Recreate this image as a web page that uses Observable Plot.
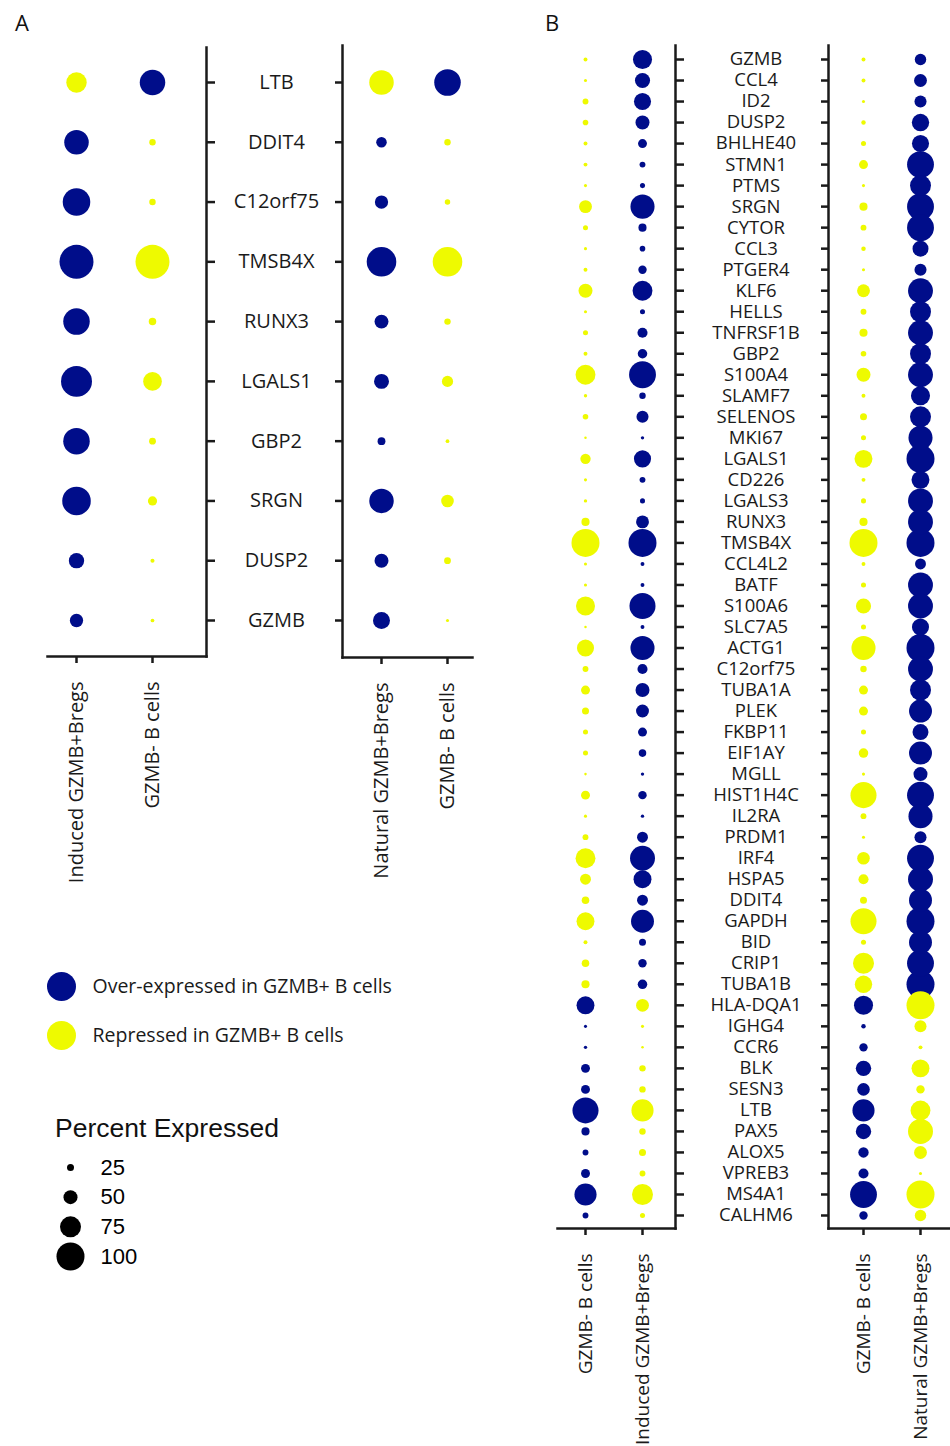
<!DOCTYPE html>
<html>
<head>
<meta charset="utf-8">
<script src="https://cdn.jsdelivr.net/npm/d3@7"></script>
<script src="https://cdn.jsdelivr.net/npm/@observablehq/plot@0.6"></script>
<style>
  body { margin: 0; background: #fff; }
  #root { position: relative; width: 950px; height: 1446px; overflow: hidden; font-family: "Open Sans", sans-serif; color: #111; }
  .abs { position: absolute; }
  .abs svg { overflow: visible; }
  .letter { font-size: 22px; line-height: 1; }
  .ptitle { font-family: "Liberation Sans", Arial, sans-serif; font-size: 26.5px; line-height: 1; }
</style>
</head>
<body>
<div id="root"></div>
<script>
const BLUE = "#000D8A";
const YELLOW = "#EEFA00";
const INK = "#1a1a1a";
const FONT = "'Open Sans', sans-serif";
const LEVELS = ["Over-expressed in GZMB+ B cells", "Repressed in GZMB+ B cells"];

// ---------- Panel A data ----------
const genesA = ["LTB", "DDIT4", "C12orf75", "TMSB4X", "RUNX3", "LGALS1", "GBP2", "SRGN", "DUSP2", "GZMB"];
const levelsA = ["R", "O", "O", "O", "O", "O", "O", "O", "O", "O"]; // regulation in GZMB+ cells
const groupsA1 = ["Induced GZMB+Bregs", "GZMB- B cells"];
const groupsA2 = ["Natural GZMB+Bregs", "GZMB- B cells"];
const pctA_induced = [60, 72, 81, 100, 78, 91, 78, 84, 45, 39];
const pctA_neg1    = [75, 19, 19, 100, 22, 55, 20, 27, 12, 11];
const pctA_natural = [72, 31, 39, 87, 41, 44, 23, 72, 41, 50];
const pctA_neg2    = [78, 19, 16, 87, 19, 33, 11, 37, 20, 9];

// ---------- Panel B data ----------
const genesB = ["GZMB","CCL4","ID2","DUSP2","BHLHE40","STMN1","PTMS","SRGN","CYTOR","CCL3","PTGER4","KLF6",
  "HELLS","TNFRSF1B","GBP2","S100A4","SLAMF7","SELENOS","MKI67","LGALS1","CD226","LGALS3","RUNX3","TMSB4X",
  "CCL4L2","BATF","S100A6","SLC7A5","ACTG1","C12orf75","TUBA1A","PLEK","FKBP11","EIF1AY","MGLL","HIST1H4C",
  "IL2RA","PRDM1","IRF4","HSPA5","DDIT4","GAPDH","BID","CRIP1","TUBA1B","HLA-DQA1","IGHG4",
  "CCR6","BLK","SESN3","LTB","PAX5","ALOX5","VPREB3","MS4A1","CALHM6"];
const levelsB = [
  "O","O","O","O","O","O","O","O","O","O","O","O",
  "O","O","O","O","O","O","O","O","O","O","O","O",
  "O","O","O","O","O","O","O","O","O","O","O","O",
  "O","O","O","O","O","O","O","O","O","R","R",
  "R","R","R","R","R","R","R","R","R"];
const groupsB1 = ["GZMB- B cells", "Induced GZMB+Bregs"];
const groupsB2 = ["GZMB- B cells", "Natural GZMB+Bregs"];
const pctB_neg1 = [14,11,21,20,14,14,11,46,18,11,14,50,
  11,18,14,71,12,20,9,37,11,12,29,100,
  11,11,68,9,61,21,32,25,18,18,9,32,
  11,21,71,39,27,64,14,27,29,64,11,
  12,32,32,93,29,21,32,79,21];
const pctB_induced = [68,54,61,50,32,21,18,86,29,20,30,71,
  18,36,34,96,23,43,12,61,21,18,46,100,
  14,14,93,14,86,36,50,46,32,27,12,30,
  12,39,89,64,39,82,25,30,34,46,11,
  9,23,23,79,23,25,21,75,18];
const pctB_neg2 = [14,14,11,16,18,32,11,29,21,16,11,46,
  21,29,20,50,14,25,18,64,14,18,29,100,
  14,18,54,18,86,23,32,32,18,34,11,93,
  21,11,45,36,25,93,18,75,62,68,16,
  30,55,45,79,55,37,36,96,30];
const pctB_natural = [41,46,43,62,61,96,75,96,96,57,43,89,
  75,89,75,89,68,75,86,100,64,89,89,100,
  39,89,89,61,100,89,75,82,57,82,50,96,
  86,43,96,89,82,100,82,96,100,100,43,
  14,64,30,71,89,46,11,100,41];

// ---------- Legend data ----------
const sizeLegend = [25, 50, 75, 100];

// ---------- helpers ----------
const root = document.getElementById("root");
function place(node, left, top) {
  const d = document.createElement("div");
  d.className = "abs";
  d.style.left = left + "px";
  d.style.top = top + "px";
  d.appendChild(node);
  root.appendChild(d);
  return d;
}
function levelName(code) { return code === "O" ? LEVELS[0] : LEVELS[1]; }
function opposite(name) { return name === LEVELS[0] ? LEVELS[1] : LEVELS[0]; }

function dotPlot({genes, groups, series, levels, plusGroup, w, h, m, xr, yr, rmax, side, tickLen, xfs}) {
  const rows = [];
  groups.forEach((g, gi) => genes.forEach((gene, i) => {
    const lv = levelName(levels[i]);
    rows.push({gene, group: g, pct: series[gi][i], level: g === plusGroup ? lv : opposite(lv)});
  }));
  return Plot.plot({
    width: w, height: h,
    marginTop: m[0], marginRight: m[1], marginBottom: m[2], marginLeft: m[3],
    style: {fontFamily: FONT, color: INK, background: "transparent", overflow: "visible"},
    x: {type: "point", domain: groups, range: xr, padding: 0, round: false},
    y: {type: "point", domain: genes, range: yr, padding: 0, round: false},
    r: {type: "linear", domain: [0, 100], range: [0, rmax]},
    color: {domain: LEVELS, range: [BLUE, YELLOW]},
    marks: [
      Plot.frame({anchor: side, stroke: INK, strokeWidth: 2.5}),
      Plot.frame({anchor: "bottom", stroke: INK, strokeWidth: 2.5}),
      Plot.axisY({anchor: side, tickSize: tickLen, tickFormat: () => "", strokeWidth: 2.5, label: null}),
      Plot.axisX({anchor: "bottom", tickSize: 7, tickRotate: -90, tickPadding: 18, fontSize: xfs, strokeWidth: 2.5, fill: INK, label: null}),
      Plot.dot(rows, {x: "group", y: "gene", r: "pct", fill: "level"})
    ]
  });
}

function geneLabels(genes, w, h, yr, fs) {
  return Plot.plot({
    width: w, height: h, margin: 0,
    style: {fontFamily: FONT, color: INK, background: "transparent", overflow: "visible"},
    y: {type: "point", domain: genes, range: yr, padding: 0, round: false, axis: null},
    marks: [Plot.text(genes, {y: d => d, text: d => d, fontSize: fs, fill: INK})]
  });
}

// ---------- Panel A ----------
place(dotPlot({genes: genesA, groups: groupsA1, series: [pctA_induced, pctA_neg1], levels: levelsA,
  plusGroup: groupsA1[0], w: 240, h: 900, m: [47, 34, 244, 47], xr: [76, 152], yr: [82, 620],
  rmax: 17, side: "right", tickLen: 8, xfs: 20}), 0, 0);
place(geneLabels(genesA, 124, 700, [82, 620], 20), 214, 0);
place(dotPlot({genes: genesA, groups: groupsA2, series: [pctA_natural, pctA_neg2], levels: levelsA,
  plusGroup: groupsA2[0], w: 200, h: 900, m: [45, 28, 243, 42], xr: [81, 147], yr: [82, 620],
  rmax: 17, side: "left", tickLen: 7, xfs: 20}), 300, 0);

// ---------- Panel B ----------
place(dotPlot({genes: genesB, groups: groupsB1, series: [pctB_neg1, pctB_induced], levels: levelsB,
  plusGroup: groupsB1[1], w: 150, h: 1446, m: [45, 15, 218, 17], xr: [45, 102], yr: [59, 1215],
  rmax: 14, side: "right", tickLen: 8, xfs: 19}), 540, 0);
place(geneLabels(genesB, 145, 1300, [59, 1215], 18.5), 683, 0);
place(dotPlot({genes: genesB, groups: groupsB2, series: [pctB_neg2, pctB_natural], levels: levelsB,
  plusGroup: groupsB2[1], w: 150, h: 1446, m: [45, 0, 218, 28], xr: [63, 120], yr: [59, 1215],
  rmax: 14, side: "left", tickLen: 7, xfs: 19}), 800, 0);

// ---------- Legends ----------
place(Plot.plot({
  width: 420, height: 100, margin: 0, marginLeft: 31,
  style: {fontFamily: FONT, color: INK, background: "transparent", overflow: "visible"},
  y: {type: "point", domain: LEVELS, range: [26, 75], padding: 0, round: false, axis: null},
  color: {domain: LEVELS, range: [BLUE, YELLOW]},
  marks: [
    Plot.dot(LEVELS, {y: d => d, fill: d => d, r: 14.5, frameAnchor: "left"}),
    Plot.text(LEVELS, {y: d => d, text: d => d, frameAnchor: "left", dx: 31, textAnchor: "start", fontSize: 19.5, fill: INK})
  ]
}), 30, 960);

const title = document.createElement("div");
title.className = "ptitle";
title.textContent = "Percent Expressed";
place(title, 55, 1115);

place(Plot.plot({
  width: 200, height: 180, margin: 0, marginLeft: 40,
  style: {fontFamily: "'Liberation Sans', Arial, sans-serif", color: "#000", background: "transparent", overflow: "visible"},
  y: {type: "point", domain: sizeLegend, range: [67, 156], padding: 0, round: false, axis: null},
  r: {type: "linear", domain: [0, 100], range: [0, 14]},
  marks: [
    Plot.dot(sizeLegend, {y: d => d, r: d => d, fill: "#000", frameAnchor: "left"}),
    Plot.text(sizeLegend, {y: d => d, text: d => String(d), frameAnchor: "left", dx: 30, textAnchor: "start", fontSize: 22, fill: "#000"})
  ]
}), 30, 1100);

// panel letters
const la = document.createElement("div"); la.className = "letter"; la.textContent = "A"; place(la, 15, 11);
const lb = document.createElement("div"); lb.className = "letter"; lb.textContent = "B"; place(lb, 545, 11);
</script>
</body>
</html>
